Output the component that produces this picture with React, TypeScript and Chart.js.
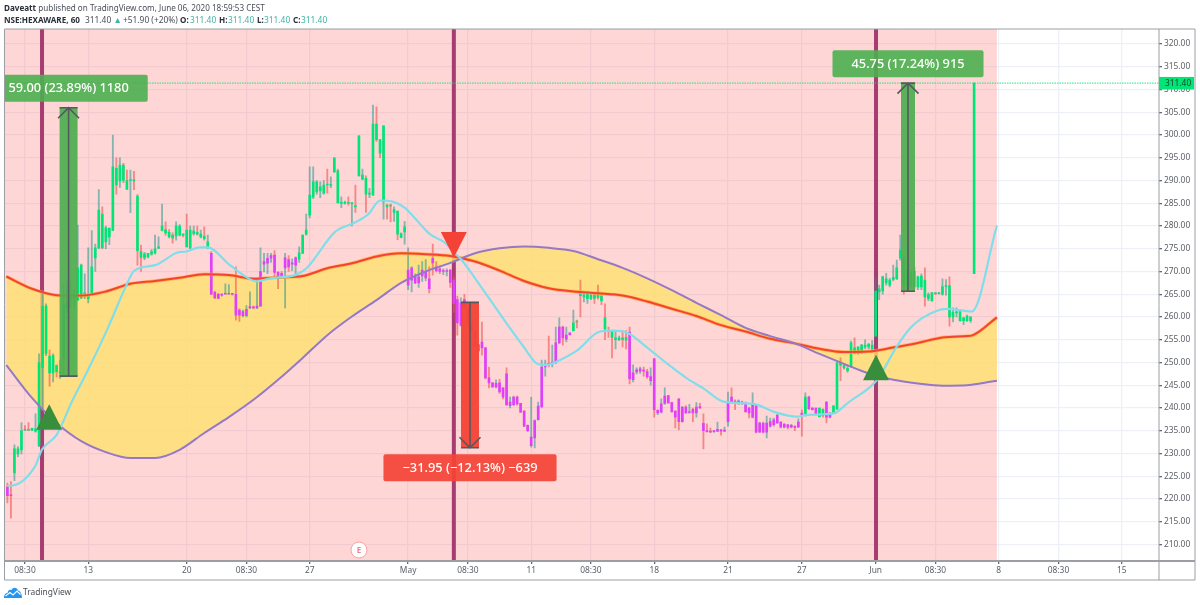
import React, { useEffect, useRef } from "react";
import { Chart, registerables } from "chart.js";

Chart.register(...registerables);

// Hourly candles, one entry per bar
const highs = [
  223.5,223.8,231.9,231.5,236.8,236.1,236.8,235.6,238.7,251.9,
  265.6,262.9,252.7,251.9,249.5,250.5,267,267.5,268,266,
  280.2,271.6,269.5,275.2,279,276,288,284.2,280,279.6,
  300,295,295,293.8,292.3,292.3,292,286.9,275.8,274.2,
  274,274.8,278,277.6,284.8,280.9,279.2,278.5,280.9,280.3,
  278.3,282.6,280,280,280,279.1,279.8,278,274.4,265.7,
  265.2,265.1,267.3,267.1,265.2,271,261.8,261.5,262.5,265.5,
  262.4,268.5,275.2,274,274,274,274.6,270,270,274,
  273.5,272.8,273.2,275.4,278,282.6,293,293,290,289.7,
  290,292.5,290.8,295,292.5,286.4,285.5,286.4,285.1,289,
  299.8,292.5,291,288.3,306.6,306.2,299,302,284.8,284.8,
  284.2,283.3,278.5,281,275.2,271,269.5,271.4,272.2,272.6,
  271,276,272.2,271.2,270.6,270.6,270.5,268.8,264.6,264.2,
  265,262.2,258.7,257.2,254,258.9,253.3,249,245.6,246.2,
  246.3,244.4,248.8,242.4,242.6,242.6,241,239.4,236.3,242.4,
  237.4,241.3,250.5,250.5,255.8,253.8,257.8,259.8,258,257.8,
  256.5,261.5,259.3,268.1,265.4,265.5,265,265,267,264.8,
  262.9,257.8,257,257,255.8,257,257,257.8,249.5,248.8,
  249,249,248.5,248.8,250.9,239.6,242,244.4,242.8,241.3,
  239.4,242,240.3,240.5,240.8,240,241.2,241,238.7,236.5,
  235.6,235,236.9,235.3,235.8,243.5,244.4,241.8,241.8,241.5,
  241.3,240.2,243.3,240.8,236.9,236.9,238.2,237.8,237.8,238.6,
  237,236.6,236.4,236.4,236,237.6,239.6,243.3,242.6,240.2,
  240,240,239.8,241.4,239,240.6,250,251,249.6,249.4,
  254.7,255.4,253.5,254,255,254.2,254.8,268.6,267,269,
  269.6,268.5,271.4,272.5,278,273,270.5,270,271,269,
  269.5,270.8,265.3,265.4,265.4,265.4,268.4,268.2,268.8,262,
  262,261.4,259.9,260.4,260.1,311.4,
];
const lows = [
  219.1,215.8,224,229.3,229.9,235,235,235,234.7,231.5,
  239.5,251.5,244.8,245.7,246.8,246.5,247,260.9,262,262,
  263.7,264,264,263.1,264.8,270,275,275,275,275.9,
  279,287,288.5,289.5,288,282.9,288,271.4,270,272.6,
  273,273.6,273.8,275,278.9,278,277.4,276.2,276.9,277.8,
  277.6,275.4,275,278,278,277.4,276.9,275,264.9,264,
  264,264.6,265,265,264.8,259.3,259,260,260,261.8,
  261.8,261.8,262.4,269.9,269.5,272,268.6,266.2,268.8,262,
  270,270.2,269,272,273.9,278,281.8,286,287,286.2,
  287,287.2,288.4,291.8,285,284,284.8,284.6,280,283,
  291,290.2,283,286.2,286.8,298.6,295,281.5,281.5,280.9,
  281,277,277.4,276,266,265.5,267.3,266.5,267.8,268,
  265.3,269.2,269.9,269.5,269.3,269,266.5,261,256,258,
  262,258,256.8,253.4,252.3,251.6,246.4,244.4,244.5,244.4,
  243.2,242,240.5,240,240.5,240.6,239,235.9,234.8,231.4,
  231.2,237.3,240,247,249,249,249.8,254.2,253.8,254.5,
  256,256.9,257.6,260,263.3,263,263.8,263,263.9,262.7,
  255,255.5,251,253,254.8,253.4,253,245.3,245.7,247.5,
  247.6,247,246.5,245,238,238.5,238.9,240.8,241,239,
  235.6,235.2,236.9,238.8,238.8,237,238,239.9,231,234.7,
  234.6,234.6,234.8,234,234.8,236,241,239.6,240.8,240.8,
  239,237.8,237.8,234.5,234.6,234.5,233.4,235.8,236,236.6,
  235.6,235.6,235.4,235.6,235,235.7,233.8,238.2,239.7,239.5,
  238.4,238,238,236.7,237.8,238.8,239.7,246,248.5,247.8,
  249,251.9,251.8,252,253,253,252.6,255.8,263.8,265,
  267,266.6,267.9,268.2,272.5,265,265.6,266.5,266,266,
  266,262.4,263.6,263.4,264.9,265,264.8,264.8,258,258.9,
  260,259.1,258.3,259,258.8,269.5,
];
const opens = [
  222.6,220.9,225.7,229.9,230.8,235.3,235.3,235.1,234.9,231.7,
  248.8,252,251.4,247.7,249.3,247.7,251,262,264,264.2,
  263.7,264.2,265,264,265.3,273,275.2,282.6,276.5,277.6,
  279,292.7,289.9,293.4,290,290,290.1,286.6,274.4,273,
  273.2,273.8,274.1,275.1,279,279.2,278.6,278,277.8,278,
  278.1,279.1,275.2,278.3,278.6,277.6,277.8,275.4,274,265.4,
  265,264.8,265,265,265,265,261.5,260.3,260.3,262,
  262.2,262,262.4,271.6,271.8,272.9,273.6,269.8,269.6,270.8,
  272.6,271.6,271.4,272.7,274,278.2,282.4,286.4,287.5,287.7,
  287.2,289.2,288.9,291.9,292.1,285,285,285.1,284.9,284.5,
  291,290.3,290.5,287,286.8,302.4,299,285.3,284.6,284.6,
  283,283.3,277.5,278.7,267,268.1,267.5,267.5,269,268.6,
  268.4,272.9,271,270.6,270,270,270.3,268.1,263.8,258.2,
  263.8,262,258.7,257,253.9,254.5,253.2,246.6,245.5,244.6,
  245.5,244.4,247.5,240.5,240.7,242.4,241,239.3,236.2,231.7,
  233.4,237.4,240.3,249,249.7,249.7,249.9,254.3,257.8,255.1,
  256.1,257,259,265.1,264.4,264,264.1,264.8,264.8,264.6,
  259.8,257,257,255,255,255.4,255.5,256.7,246.2,247.9,
  248.1,248.3,248,246,250.8,238.9,239.1,241,242.7,241.2,
  239.3,242,237,240.2,239,239.7,238.9,240.3,236.6,234.9,
  234.9,234.8,234.9,235.2,234.9,237,242.4,241.5,241.1,241.3,
  241.1,240,238,240.7,234.7,236.7,234.7,236,236.3,236.7,
  236.9,235.8,236.3,235.8,236,235.8,238.9,238.3,242.4,239.9,
  240,238.1,239.7,241.3,238,239,239.8,249.9,249.4,248.7,
  249,253.2,252,252.1,253.4,253.4,253,255.8,265.5,265.7,
  267.5,267,268.2,268.4,273,273,267,267,270.1,266.6,
  266.6,268.1,264.1,263.6,265.3,265.1,265,266.7,266.9,260,
  260.9,261.3,259.2,259.2,259.2,269.5,
];
const closes = [
  220.7,220.7,231,231,235,235.1,235.1,235.5,235.4,250,
  262.4,262.4,247.7,251.5,248,247.9,262.4,263,264.3,264.6,
  270.8,271.4,265.3,264.6,271,275.2,283.5,275.2,279.6,279.5,
  293,289,293.4,290,288.1,290.1,289.9,274.6,273.1,273.9,
  274,274.4,275,275.4,280,278.5,277.6,277.3,280,280,
  278,275.4,279.1,278.9,278.2,278.2,277.2,276.5,265,264.2,
  264.1,265,265.1,265.1,265.1,260.4,260.4,261.2,261.7,262.3,
  262,262.4,270,272.2,272.9,273.5,269.8,268.6,268.9,273,
  271,271.9,273,274.1,278,279.1,286.8,289.7,289.7,288.6,
  289,289,289.1,295,285.1,285.2,285.1,285,285,284.2,
  299.8,291.2,287,287.2,302.4,299,296,302,284.2,284.4,
  283.6,278.2,278.3,279.8,270.3,270.8,268.8,268.8,270.3,270,
  266.2,271.9,270.2,270,270.1,270.1,267.6,263,258.7,263.1,
  262.2,258.9,257.1,253.6,252.6,253.2,246.6,245.5,244.6,245.4,
  243.5,242.4,240.7,241.3,242.4,240.9,239.1,236,235,233.6,
  237.2,240.4,249,249.5,249.6,250.1,254.3,257.8,255.4,256,
  256.5,258.7,258.9,264.7,264.8,265,264.8,264.1,264.3,263.6,
  257.4,256.8,255.5,255.4,255.4,255,254.9,246.4,247.7,248.4,
  248.6,248.1,246.9,246.9,239.6,239.5,240.9,242.6,241.1,239.2,
  238,237,240.2,238.9,239.2,238.9,240.2,240,235,234.8,
  234.7,234.9,235.3,234.9,235.1,241.3,241.2,241.1,241.5,241.1,
  239.2,238.9,240.7,234.7,236.7,234.7,236.7,237,237.4,238.4,
  235.8,236.4,235.8,236.2,235.7,236.9,238.5,242.4,239.8,239.6,
  238.5,240,238.3,238,238.9,240.4,249.9,249.4,248.8,248.2,
  254.3,252,253.4,253.8,253.8,254,253.8,265.7,266.2,268.8,
  268.4,268.1,268.7,270.8,274.7,267,270.3,270,266.6,268.8,
  269,264.4,264.9,265.3,265.1,265.3,266.7,266.8,260,261,
  261.1,259.2,259.8,260.2,260,311.4,
];
const greenBarRanges = [[2, 57], [83, 113], [161, 176], [227, 227], [231, 232], [235, 275]];

// Slow moving averages, read once per trading day
const bandBars = [-0.3,7,14,21,28,35,42,49,56,63,70,77,84,91,98,105,112,119,126,133,140,147,154,161,168,175,182,189,196,203,210,217,224,231,238,245,252,259,266,273,274.3,281.5];
const purpleLine = [249.4,242.2,236.7,232.7,230.3,229,229,230.8,234.5,238,241.8,246.2,251,256,260.1,263.7,267.5,270,271.9,274,275.1,275.5,275.2,274.5,272.7,270.8,268.5,265.9,263.1,260.4,257.6,255.8,254.2,251.9,249.7,247.6,246.2,245.4,244.9,245,245.1,246];
const redLine = [268.9,266.2,264.8,264.7,265.6,267.3,267.9,268.6,269.4,269.2,268.4,268.7,269,270.7,271.8,273.3,274,273.8,273.4,272.2,270.2,267.9,266.3,265.6,265.2,264.7,263.4,261.8,260.2,258.2,256.8,255.2,254.2,253,252.3,252.4,253.3,254.3,255.5,255.8,255.9,259.9];

// Fast moving average
const cyanBars = [0,0.8,7.9,9.8,14,18.6,22.9,28.6,33.5,36.1,42,48.2,51,54.8,56.9,63.3,68.1,70.9,74.7,81.8,85.1,93.2,98.4,102.7,106,109.8,113.1,116.4,120.2,124.5,127.3,128.8,135.4,142,146.8,151,153.4,156.3,162,168.6,172.4,176.2,182.3,187.6,193.3,198,203.7,212.2,217.9,224.6,227.4,235,239.2,247.3,253,256.8,260.1,267.2,274.3,281.5];
const cyanLine = [222.9,222.9,227.2,230.8,234.1,241.8,248.3,257.6,266.4,270.2,271.4,274.1,274.4,275.3,275.3,271.4,268.7,267.8,268.5,269.2,270.7,278.7,280.6,282.6,285.6,285.3,284,281.3,278.2,276.3,274,272.9,265.9,258.6,253.5,249.6,249.4,250.2,252.6,256.8,257,256.6,253.1,249.8,246.5,244.3,241.4,240.9,239.2,238.1,238.5,238.8,241.2,246.1,253.5,257.5,259.7,261.8,261.2,280.1];

const tickBars = [5,23,51,68,86,114,131,149,166,184,205,226,247,264,282,299,317];
const tickLabels = ["08:30","13","20","08:30","27","May","08:30","11","08:30","18","21","27","Jun","08:30","8","08:30","15"];
const priceTicks = [210,215,220,225,230,235,240,245,250,255,260,265,270,275,280,285,290,295,300,305,310,315,320];
const lastPrice = 311.4;
const lastPriceLabel = "311.40";

const entryBars = [9.85, 127, 247.1];
const zoneEndBar = 281.5;
const triangleBars = [11.9, 127, 247.1];
const triangleTips = [240.8, 273.1, 251.7];
const triangleDirs = [1, -1, 1];
const arrowBars = [17.4, 131.6, 256.2];
const arrowFrom = [247, 263.2, 265.65];
const arrowTo = [306, 231.25, 311.4];
const arrowLabels = ["59.00 (23.89%) 1180", "\u221231.95 (\u221212.13%) \u2212639", "45.75 (17.24%) 915"];
const earningsBar = 100;

const UI_FONT = '"Noto Sans", sans-serif';

const green = "#00e676";
const magenta = "#e040fb";
const isGreen = (i: number) => greenBarRanges.some(([a, b]) => i >= a && i <= b);

const pairs = (xs: number[], ys: number[]) => xs.map((x, i) => ({ x, y: ys[i] }));

const drawings = {
  id: "drawings",
  beforeDatasetsDraw(chart: any) {
    const { ctx, chartArea: a, scales } = chart;
    const { x } = scales;
    ctx.save();
    ctx.fillStyle = "rgba(255,82,82,0.24)";
    ctx.fillRect(a.left, a.top, x.getPixelForValue(zoneEndBar) - a.left, a.bottom - a.top);
    ctx.strokeStyle = "#a63c70";
    ctx.lineWidth = 4;
    entryBars.forEach((b) => {
      const px = x.getPixelForValue(b);
      ctx.beginPath();
      ctx.moveTo(px, a.top);
      ctx.lineTo(px, a.bottom);
      ctx.stroke();
    });
    ctx.restore();
  },
  afterDatasetsDraw(chart: any) {
    const { ctx, chartArea: a, scales } = chart;
    const { x, y } = scales;
    ctx.save();
    ctx.beginPath();
    ctx.rect(a.left, a.top, a.right - a.left, a.bottom - a.top);
    ctx.clip();

    arrowBars.forEach((b, i) => {
      const up = arrowTo[i] > arrowFrom[i];
      const cx = x.getPixelForValue(b);
      const y0 = y.getPixelForValue(arrowFrom[i]);
      const y1 = y.getPixelForValue(arrowTo[i]);
      const half = i === 2 ? 7 : 9;
      ctx.fillStyle = up ? "rgba(76,175,80,0.92)" : "rgba(244,67,54,0.95)";
      ctx.fillRect(cx - half, Math.min(y0, y1), half * 2, Math.abs(y1 - y0));
      ctx.strokeStyle = "#555a5e";
      ctx.lineWidth = 1.6;
      ctx.beginPath();
      ctx.moveTo(cx - half, y0);
      ctx.lineTo(cx + half, y0);
      ctx.moveTo(cx - half, y1);
      ctx.lineTo(cx + half, y1);
      ctx.moveTo(cx, y0);
      ctx.lineTo(cx, y1);
      const d = up ? 1 : -1;
      ctx.moveTo(cx - 10.5, y1 + d * 10.5);
      ctx.lineTo(cx, y1);
      ctx.lineTo(cx + 10.5, y1 + d * 10.5);
      ctx.stroke();

      ctx.font = `500 12.8px ${UI_FONT}`;
      const w = ctx.measureText(arrowLabels[i]).width + 38;
      const boxH = 27;
      const boxY = up ? y1 - 6 - boxH : y1 + 6.5;
      ctx.fillStyle = up ? "rgba(76,175,80,0.9)" : "rgba(244,67,54,0.92)";
      ctx.beginPath();
      ctx.roundRect(cx - w / 2, boxY, w, boxH, 2);
      ctx.fill();
      ctx.fillStyle = "#ffffff";
      ctx.textAlign = "center";
      ctx.textBaseline = "middle";
      ctx.fillText(arrowLabels[i], cx, boxY + boxH / 2 + 0.5);
    });

    triangleBars.forEach((b, i) => {
      const cx = x.getPixelForValue(b);
      const tip = y.getPixelForValue(triangleTips[i]);
      const dir = triangleDirs[i];
      ctx.fillStyle = dir > 0 ? "#388e3c" : "#f44336";
      ctx.beginPath();
      ctx.moveTo(cx, tip);
      ctx.lineTo(cx - 13, tip + dir * 25.5);
      ctx.lineTo(cx + 13, tip + dir * 25.5);
      ctx.closePath();
      ctx.fill();
    });

    // Earnings marker
    const ex = x.getPixelForValue(earningsBar);
    const ey = a.bottom - 11;
    ctx.fillStyle = "#ffffff";
    ctx.strokeStyle = "#f7a0a0";
    ctx.lineWidth = 1;
    ctx.beginPath();
    ctx.arc(ex, ey, 8, 0, Math.PI * 2);
    ctx.fill();
    ctx.stroke();
    ctx.fillStyle = "#f0808c";
    ctx.font = `bold 8px ${UI_FONT}`;
    ctx.textAlign = "center";
    ctx.textBaseline = "middle";
    ctx.fillText("E", ex, ey + 0.5);
    ctx.restore();
  },
  afterDraw(chart: any) {
    const { ctx, chartArea: a, scales } = chart;
    const { y } = scales;
    const outerRight = 1195;
    const outerBottom = 580;
    ctx.save();
    ctx.strokeStyle = "#9b9ea3";
    ctx.lineWidth = 1;
    ctx.beginPath();
    ctx.moveTo(a.left, outerBottom);
    ctx.lineTo(a.left, a.top);
    ctx.lineTo(outerRight, a.top);
    ctx.lineTo(outerRight, outerBottom);
    ctx.closePath();
    ctx.moveTo(a.right, a.top);
    ctx.lineTo(a.right, outerBottom);
    ctx.stroke();
    ctx.lineWidth = 2;
    ctx.beginPath();
    ctx.moveTo(a.left, a.bottom);
    ctx.lineTo(outerRight, a.bottom);
    ctx.stroke();

    const py = y.getPixelForValue(lastPrice);
    ctx.fillStyle = green;
    ctx.fillRect(a.right, py - 6.2, outerRight - a.right - 1, 12.6);
    ctx.fillStyle = "#1d3b2c";
    ctx.font = `8.4px ${UI_FONT}`;
    ctx.textAlign = "left";
    ctx.textBaseline = "middle";
    ctx.fillText(lastPriceLabel, a.right + 6, py + 0.5);
    ctx.restore();
  },
};

const headerRow2: [string, number, string, boolean][] = [
  ["NSE:HEXAWARE, 60", 4, "#2a2e39", true],
  ["311.40", 85, "#4a4e57", false],
  ["▲", 113.5, "#3fb3a5", false],
  ["+51.90 (+20%)", 123, "#4a4e57", false],
  ["O:", 180, "#2a2e39", true],
  ["311.40", 190, "#3fb3a5", false],
  ["H:", 219, "#2a2e39", true],
  ["311.40", 228, "#3fb3a5", false],
  ["L:", 257, "#2a2e39", true],
  ["311.40", 264, "#3fb3a5", false],
  ["C:", 293, "#2a2e39", true],
  ["311.40", 301, "#3fb3a5", false],
];

export default function App() {
  const ref = useRef<HTMLCanvasElement | null>(null);

  useEffect(() => {
    if (!ref.current) return;
    const wickData = highs.map((h, i) => ({ x: i, y: [lows[i], h] }));
    const bodyData = opens.map((o, i) => ({ x: i, y: [o, closes[i]] }));
    const yellow = "rgba(255,225,110,0.8)";
    const flat = {
      type: "line" as const,
      pointRadius: 0,
      cubicInterpolationMode: "monotone" as const,
      fill: false,
    };
    const chart = new Chart(ref.current, {
      type: "bar",
      data: {
        datasets: [
          { ...flat, data: pairs(bandBars, purpleLine), borderWidth: 0, borderColor: "transparent", fill: { target: 1, above: yellow, below: yellow }, order: 10 },
          { ...flat, data: pairs(bandBars, redLine), borderWidth: 0, borderColor: "transparent", order: 11 },
          {
            type: "bar",
            data: wickData,
            barThickness: 1.2,
            grouped: false,
            minBarLength: 1,
            backgroundColor: opens.map((o, i) => (closes[i] >= o ? "rgba(38,150,140,0.55)" : "rgba(239,83,80,0.6)")),
            order: 6,
          },
          {
            type: "bar",
            data: bodyData,
            barThickness: 2,
            grouped: false,
            minBarLength: 1,
            backgroundColor: opens.map((_, i) => (isGreen(i) ? green : magenta)),
            order: 5,
          },
          { ...flat, data: pairs(bandBars, redLine), borderWidth: 3.4, borderColor: "rgba(255,167,38,0.7)", order: 4 },
          { ...flat, data: pairs(bandBars, redLine), borderWidth: 2, borderColor: "#f44336", order: 3 },
          { ...flat, data: pairs(bandBars, purpleLine), borderWidth: 2, borderColor: "#9579c4", order: 2 },
          { ...flat, data: pairs(cyanBars, cyanLine), borderWidth: 2.2, borderColor: "#80deea", order: 1 },
          {
            ...flat,
            data: [{ x: -0.825, y: lastPrice }, { x: 327.6, y: lastPrice }],
            borderWidth: 1.4,
            borderDash: [1.5, 1],
            borderColor: "rgba(0,230,118,0.7)",
            order: 0,
          },
        ] as any,
      },
      options: {
        responsive: false,
        animation: false,
        events: [],
        layout: { padding: { left: 4.5, top: 29, right: 5, bottom: 25 } },
        plugins: { legend: { display: false }, tooltip: { enabled: false }, title: { display: false } },
        scales: {
          x: {
            type: "linear",
            min: -0.825,
            max: 327.6,
            offset: false,
            afterBuildTicks: (s: any) => {
              s.ticks = tickBars.map((value) => ({ value }));
            },
            afterFit: (s: any) => {
              s.height = 19;
            },
            grid: { color: "#edf1f7", lineWidth: 1.3, offset: false, tickColor: "#666a70", tickLength: 3, drawOnChartArea: true },
            border: { display: false },
            ticks: {
              autoSkip: false,
              maxRotation: 0,
              padding: 2,
              color: "#5a5e66",
              font: { family: UI_FONT, size: 8.4 },
              callback: (_v: any, i: number) => tickLabels[i],
            },
          },
          y: {
            type: "linear",
            position: "right",
            min: 206.36,
            max: 323.3,
            afterBuildTicks: (s: any) => {
              s.ticks = priceTicks.map((value) => ({ value }));
            },
            afterFit: (s: any) => {
              s.width = 36;
            },
            grid: { color: "#edf1f7", lineWidth: 1.3, tickColor: "#666a70", tickLength: 3 },
            border: { display: false },
            ticks: {
              autoSkip: false,
              padding: 2,
              color: "#5a5e66",
              font: { family: UI_FONT, size: 8.4 },
              callback: (v: any) => Number(v).toFixed(2),
            },
          },
        },
      } as any,
      plugins: [drawings],
    });
    return () => chart.destroy();
  }, []);

  return (
    <div style={{ position: "absolute", left: 0, top: 0, width: 1200, height: 605, background: "#fff", overflow: "hidden", fontFamily: UI_FONT }}>
      <canvas ref={ref} width={1200} height={605} style={{ position: "absolute", left: 0, top: 0, width: 1200, height: 605 }} />
      <div style={{ position: "absolute", left: 4, top: 2, fontSize: 8.1, lineHeight: "12px", color: "#4a4e57", whiteSpace: "nowrap" }}>
        <b style={{ color: "#2a2e39" }}>Daveatt</b> published on TradingView.com, June 06, 2020 18:59:53 CEST
      </div>
      {headerRow2.map(([text, left, color, bold], i) => (
        <span
          key={i}
          style={{ position: "absolute", left, top: 14, fontSize: bold ? 8.1 : 8.4, lineHeight: "12px", color, fontWeight: bold ? 700 : 400, whiteSpace: "nowrap" }}
        >
          {text}
        </span>
      ))}
      <svg width="18" height="11" viewBox="0 0 18 11" style={{ position: "absolute", left: 4, top: 587 }}>
        <path d="M0 11 C0 7 2 6 3.5 6 C4 3 6 2 7.5 3 C9 0 13 0 14 3.5 C16.5 4 18 7 18 11 Z" fill="#2196f3" />
        <path d="M1.5 9 L6 5.5 L9 8 L13 4 L16.5 7.5" fill="none" stroke="#fff" strokeWidth="1.2" />
      </svg>
      <div style={{ position: "absolute", left: 23, top: 586, fontSize: 8.4, lineHeight: "12px", color: "#4a4e57" }}>TradingView</div>
    </div>
  );
}
